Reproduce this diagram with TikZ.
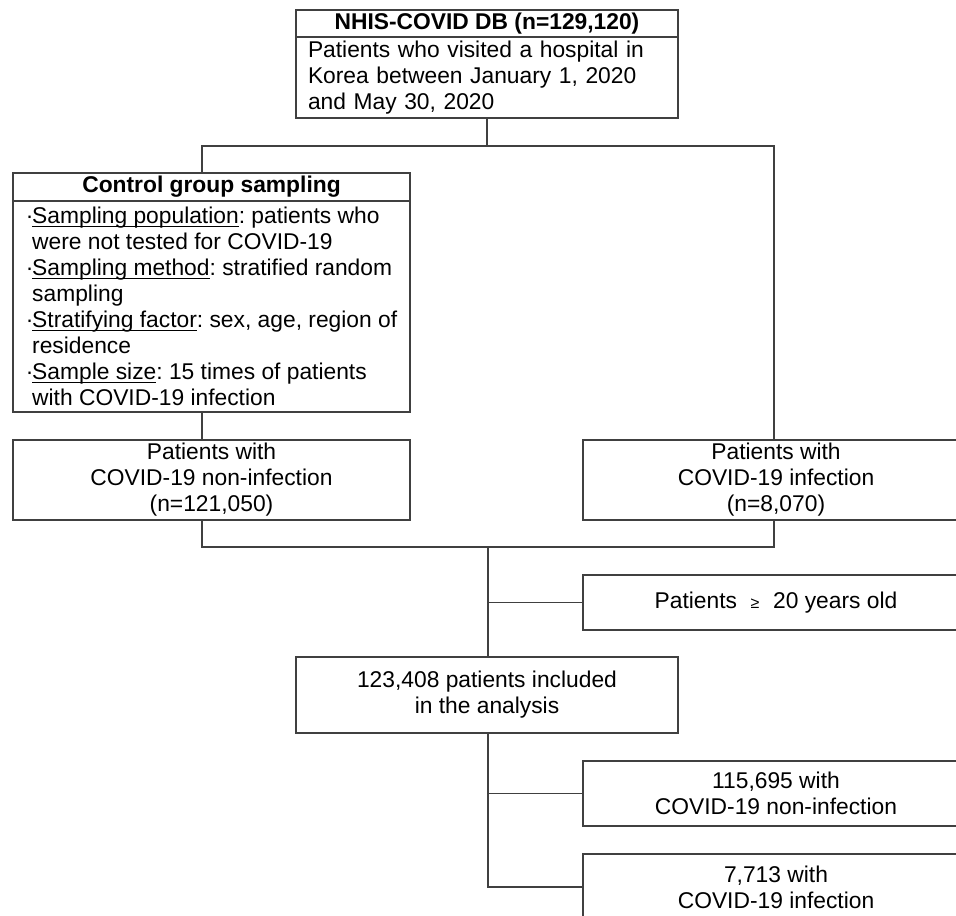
\documentclass[tikz,border=0pt]{standalone}
\usepackage{fontspec}
\setmainfont{Liberation Sans}
\usetikzlibrary{positioning}
\frenchspacing
\newcommand\undl[1]{\setbox0\hbox{#1}\rlap{\rule[-1.6pt]{\wd0}{0.6pt}}\box0}
\newcommand\itm{\makebox[3.2pt][l]{·}}
\newcommand\cnt{\makebox[3.2pt][l]{}}

\begin{document}
\begin{tikzpicture}[
  x=0.5pt, y=-0.5pt,
  box/.style={rectangle, draw=black!75, line width=0.9pt, outer sep=0pt, inner sep=0pt, font=\fontsize{11.4}{13}\selectfont, align=center},
  head/.style={box, font=\fontsize{11.4}{13}\selectfont\bfseries},
  side/.style={box, minimum width=193pt},
  line/.style={draw=black!75, line width=0.9pt},
]
\useasboundingbox (0,0) rectangle (956,915);
\clip (0,0) rectangle (956,915);

% top of the flow
\node[head, minimum width=191pt, minimum height=13.5pt] (dbhead) at (487,23.5) {NHIS-COVID DB (n=129,120)};
\node[box, below=0pt of dbhead, text width=179pt, inner xsep=6pt, minimum height=40.5pt, align=left] (dbbody)
  {Patients who visited a hospital in\\Korea between January 1, 2020\\and May 30, 2020};

% control group
\node[head, minimum width=198.5pt, minimum height=14pt] (ctrlhead) at (211.5,187) {Control group sampling};
\node[box, below=0pt of ctrlhead, minimum width=198.5pt, minimum height=105.5pt, align=left] (ctrlbody)
  {\itm\undl{Sampling population}: patients who\\
   \cnt were not tested for COVID-19\\
   \itm\undl{Sampling method}: stratified random\\
   \cnt sampling\\
   \itm\undl{Stratifying factor}: sex, age, region of\\
   \cnt residence\\
   \itm\undl{Sample size}: 15 times of patients\\
   \cnt with COVID-19 infection};

\node[box, minimum width=198.5pt, minimum height=40pt] (noninf) at (211.5,480) {Patients with\\COVID-19 non-infection\\(n=121,050)};
\node[side, minimum height=40pt] (inf) at (776,480) {Patients with\\COVID-19 infection\\(n=8,070)};

% selection and result
\node[side, minimum height=27.5pt] (age) at (776,602.5) {Patients\hspace{0.6em}{\fontsize{8}{9}\selectfont ≥}\hspace{0.6em}20 years old};
\node[box, minimum width=191pt, minimum height=38pt] (analysis) at (487,695) {123,408 patients included\\in the analysis};
\node[side, minimum height=32.5pt] (nonfinal) at (776,793.5) {115,695 with\\COVID-19 non-infection};
\node[side, minimum height=33pt] (inffinal) at (776,887) {7,713 with\\COVID-19 infection};

\coordinate (lft) at (202,146);
\coordinate (rgt) at (774,146);
\coordinate (mrg) at (488,547);

\draw[line] (dbbody.south) -- (dbbody.south |- lft);
\draw[line] (lft |- ctrlhead.north) -- (lft) -- (rgt) -- (rgt |- inf.north);
\draw[line] (lft |- ctrlbody.south) -- (lft |- noninf.north);
\draw[line] (lft |- noninf.south) -- (lft |- mrg) -- (rgt |- mrg) -- (rgt |- inf.south);
\draw[line] (mrg) -- (mrg |- analysis.north);
\draw[line] (mrg |- age) -- (age.west);
\draw[line] (analysis.south -| mrg) -- (mrg |- inffinal) -- (inffinal.west);
\draw[line] (mrg |- nonfinal) -- (nonfinal.west);
\end{tikzpicture}
\end{document}
